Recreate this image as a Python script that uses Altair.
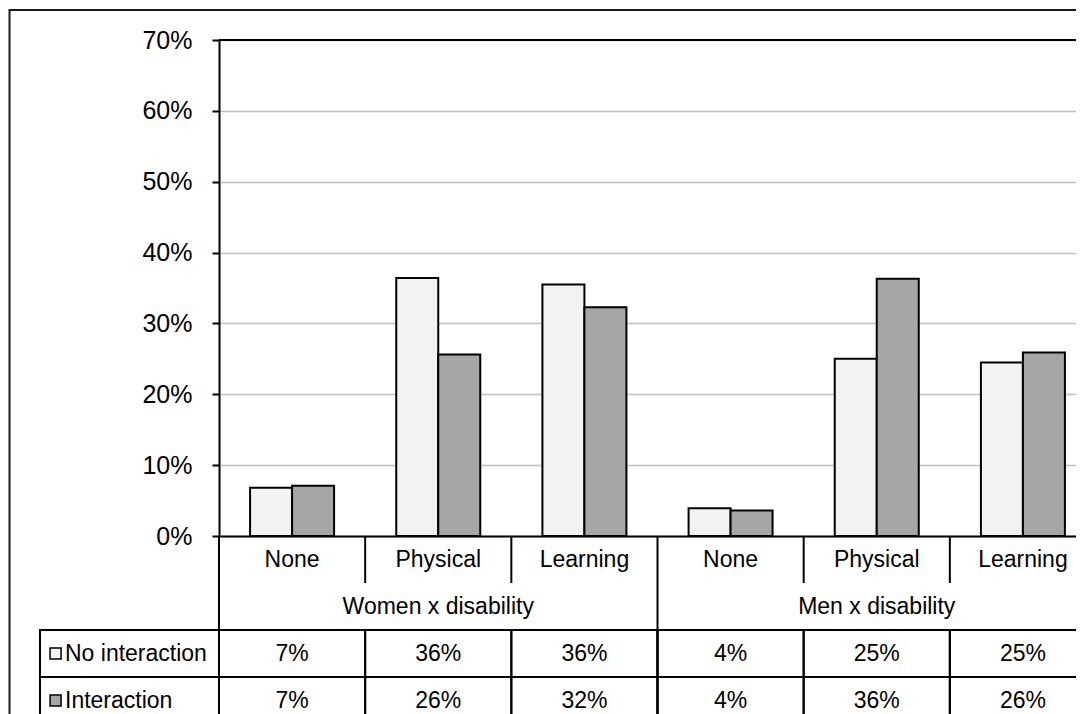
import altair as alt
import pandas as pd

# ---------------- data ----------------
groups = ["Women x disability"] * 3 + ["Men x disability"] * 3
group_names = ["Women x disability", "Men x disability"]
disabilities = ["None", "Physical", "Learning", "None", "Physical", "Learning"]
series = ["No interaction", "Interaction"]
no_interaction = [0.068, 0.364, 0.355, 0.039, 0.250, 0.245]
interaction = [0.071, 0.256, 0.323, 0.036, 0.363, 0.259]
no_interaction_labels = ["7%", "36%", "36%", "4%", "25%", "25%"]
interaction_labels = ["7%", "26%", "32%", "4%", "36%", "26%"]
y_ticks = [0, 0.1, 0.2, 0.3, 0.4, 0.5, 0.6, 0.7]
y_max = 0.7
colors = ["#f2f2f2", "#a6a6a6"]

keys = [f"{g}|{d}" for g, d in zip(groups, disabilities)]
FONT = "Liberation Sans"
TXT = 23

# ---------------- tables ----------------
bar_rows = []
for k, g, d, a, b in zip(keys, groups, disabilities, no_interaction, interaction):
    bar_rows.append({"key": k, "group": g, "dis": d, "series": series[0], "value": a})
    bar_rows.append({"key": k, "group": g, "dis": d, "series": series[1], "value": b})
bar_df = pd.DataFrame(bar_rows)

cat_df = pd.DataFrame({"key": keys, "dis": disabilities, "row": 0.5})
grp_df = pd.DataFrame({"group": group_names, "row": 1.5})

cell_rows = []
for k, l1, l2 in zip(keys, no_interaction_labels, interaction_labels):
    cell_rows.append({"key": k, "label": l1, "r0": 2, "r1": 3, "mid": 2.5})
    cell_rows.append({"key": k, "label": l2, "r0": 3, "r1": 4, "mid": 3.5})
cell_df = pd.DataFrame(cell_rows)

# vertical dividers: inner category dividers in the label row, group dividers full height
div_rows = []
prev = None
for k, g in zip(keys, groups):
    div_rows.append({"key": k, "y0": 0, "y1": 4 if g != prev else 1})
    prev = g
div_df = pd.DataFrame(div_rows)

leg_df = pd.DataFrame({"col": ["legend", "legend"], "series": series,
                       "r0": [2, 3], "r1": [3, 4], "mid": [2.5, 3.5]})

# ---------------- scales ----------------
xs = alt.Scale(type="band", domain=keys, range=[0, 877], paddingInner=0, paddingOuter=0)
gs = alt.Scale(type="band", domain=group_names, range=[0, 877], paddingInner=0, paddingOuter=0)
ls = alt.Scale(type="band", domain=["legend"], range=[-179, 0], paddingInner=0, paddingOuter=0)
ys = alt.Scale(domain=[0, y_max], nice=False, zero=True)
ts = alt.Scale(domain=[0, 4], range=[496, 684], nice=False, zero=False)
cs = alt.Scale(domain=series, range=colors)

# ---------------- layers ----------------
bars = alt.Chart(bar_df).mark_bar(stroke="black", strokeWidth=2).encode(
    x=alt.X("key:N", scale=xs, title=None,
            axis=alt.Axis(labels=False, ticks=False, grid=False, domain=True,
                          domainColor="black", domainWidth=2)),
    xOffset=alt.XOffset("series:N", scale=alt.Scale(domain=series, paddingInner=0, paddingOuter=0.74)),
    y=alt.Y("value:Q", scale=ys, title=None,
            axis=alt.Axis(values=y_ticks, format=".0%", grid=True, gridColor="#c0c0c0",
                          gridWidth=1.3, domainColor="black", domainWidth=2,
                          tickColor="black", tickWidth=2, tickSize=7,
                          labelFont=FONT, labelFontSize=25, labelColor="black",
                          labelPadding=20)),
    color=alt.Color("series:N", scale=cs, legend=None),
)

top_rule = alt.Chart(pd.DataFrame({"v": [y_max]})).mark_rule(color="black", strokeWidth=2).encode(
    y=alt.Y("v:Q", scale=ys, axis=None),
)

dividers = alt.Chart(div_df).mark_rule(color="black", strokeWidth=2).encode(
    x=alt.X("key:N", scale=xs, bandPosition=0, axis=None),
    y=alt.Y("y0:Q", scale=ts, axis=None),
    y2="y1:Q",
)

cells = alt.Chart(cell_df).mark_rect(fillOpacity=0, stroke="black", strokeWidth=2).encode(
    x=alt.X("key:N", scale=xs, axis=None),
    y=alt.Y("r0:Q", scale=ts, axis=None),
    y2="r1:Q",
)

leg_cells = alt.Chart(leg_df).mark_rect(fillOpacity=0, stroke="black", strokeWidth=2).encode(
    x=alt.X("col:N", scale=ls, axis=None),
    y=alt.Y("r0:Q", scale=ts, axis=None),
    y2="r1:Q",
)

leg_swatch = alt.Chart(leg_df).mark_square(size=121, stroke="black", strokeWidth=1.5, opacity=1).encode(
    x=alt.X("col:N", scale=ls, bandPosition=0.087, axis=None),
    y=alt.Y("mid:Q", scale=ts, axis=None),
    fill=alt.Fill("series:N", scale=cs, legend=None),
)

leg_text = alt.Chart(leg_df).mark_text(align="left", baseline="middle", dx=25,
                                       font=FONT, fontSize=TXT, color="black").encode(
    x=alt.X("col:N", scale=ls, bandPosition=0, axis=None),
    y=alt.Y("mid:Q", scale=ts, axis=None),
    text="series:N",
)

cat_text = alt.Chart(cat_df).mark_text(baseline="middle", font=FONT, fontSize=TXT, color="black").encode(
    x=alt.X("key:N", scale=xs, axis=None),
    y=alt.Y("row:Q", scale=ts, axis=None),
    text="dis:N",
)

grp_text = alt.Chart(grp_df).mark_text(baseline="middle", font=FONT, fontSize=TXT, color="black").encode(
    x=alt.X("group:N", scale=gs, axis=None),
    y=alt.Y("row:Q", scale=ts, axis=None),
    text="group:N",
)

cell_text = alt.Chart(cell_df).mark_text(baseline="middle", font=FONT, fontSize=TXT, color="black").encode(
    x=alt.X("key:N", scale=xs, axis=None),
    y=alt.Y("mid:Q", scale=ts, axis=None),
    text="label:N",
)

frame = alt.Chart(pd.DataFrame({"f": [1]})).mark_rect(fillOpacity=0, stroke="#1a1a1a", strokeWidth=2).encode(
    x=alt.value(-209.5), x2=alt.value(900), y=alt.value(-30), y2=alt.value(720),
)

chart = alt.layer(
    frame, bars, top_rule, cells, leg_cells, dividers, leg_swatch, leg_text,
    cat_text, grp_text, cell_text,
).resolve_scale(x="independent", y="independent").properties(
    width=857, height=496,
    padding={"left": 211, "top": 32, "right": 0, "bottom": 178},
    autosize=alt.AutoSizeParams(type="none"),
).configure_view(stroke=None).configure(background="white")

chart.save("out.html", embed_options={"renderer": "svg", "actions": False})
